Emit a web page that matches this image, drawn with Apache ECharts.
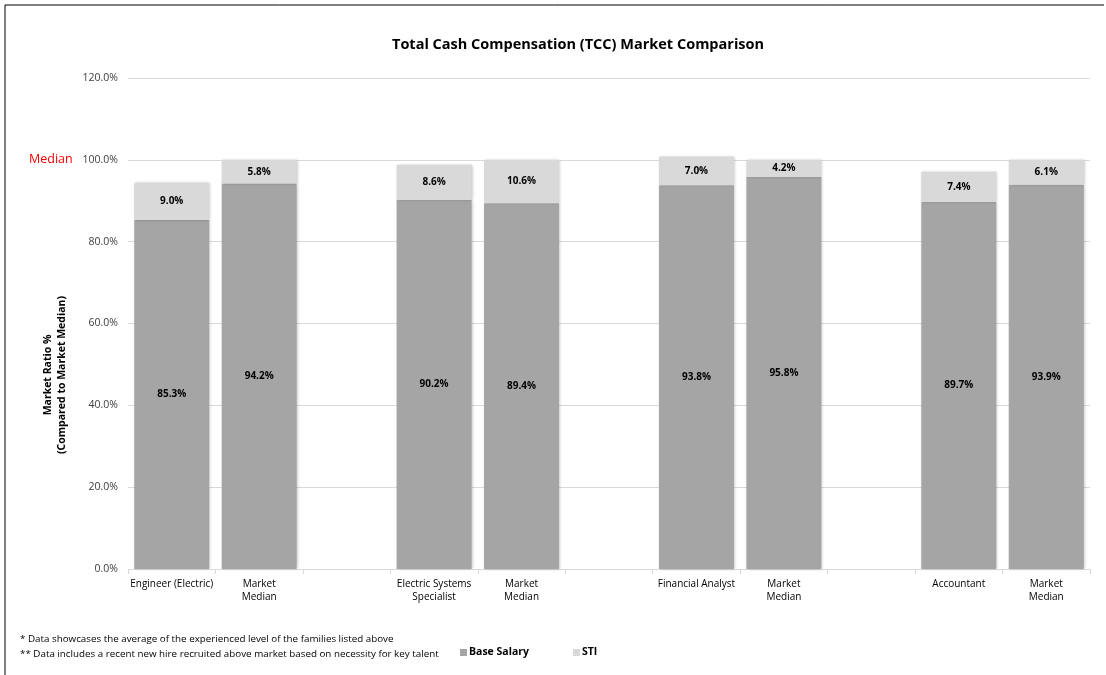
<!DOCTYPE html>
<html>
<head>
<meta charset="utf-8">
<style>
  html, body { margin: 0; padding: 0; background: #fff; }
  #chart { width: 1106px; height: 675px; }
</style>
<script src="https://cdn.jsdelivr.net/npm/echarts@6/dist/echarts.min.js"></script>
</head>
<body>
<div id="chart"></div>
<script>
// Job families, each followed by its market median, with a blank slot between groups
const categories = [
  'Engineer (Electric)', 'Market\nMedian', '',
  'Electric Systems\nSpecialist', 'Market\nMedian', '',
  'Financial Analyst', 'Market\nMedian', '',
  'Accountant', 'Market\nMedian'
];
const baseSalary = [85.3, 94.2, null, 90.2, 89.4, null, 93.8, 95.8, null, 89.7, 93.9];
const sti = [9.0, 5.8, null, 8.6, 10.6, null, 7.0, 4.2, null, 7.4, 6.1];
const yTicks = { min: 0, max: 120, interval: 20 };
const medianLevel = 100;
const footnotes = [
  '* Data showcases the average of the experienced level of the families listed above',
  '** Data includes a recent new hire recruited above market based on necessity for key talent'
];

const FONT = '"Open Sans", "Noto Sans", sans-serif';
const pct = v => v.toFixed(1) + '%';

const chart = echarts.init(document.getElementById('chart'), null, { renderer: 'canvas' });

const barStyle = color => ({
  color: color,
  shadowColor: 'rgba(0,0,0,0.25)',
  shadowBlur: 3,
  shadowOffsetX: 1,
  shadowOffsetY: 0
});

const valueLabel = {
  show: true,
  position: 'inside',
  formatter: p => pct(p.value),
  fontFamily: FONT,
  fontSize: 10,
  fontWeight: 'bold',
  color: '#000'
};

chart.setOption({
  animation: false,
  backgroundColor: '#ffffff',
  title: {
    text: 'Total Cash Compensation (TCC) Market Comparison',
    left: 387,
    top: 32,
    textStyle: { fontFamily: FONT, fontSize: 14.5, fontWeight: 'bold', color: '#000' }
  },
  grid: { left: 128, right: 16, top: 78, bottom: 106, containLabel: false },
  legend: {
    left: 455,
    top: 642,
    itemWidth: 7,
    itemHeight: 7,
    itemGap: 44,
    icon: 'rect',
    textStyle: {
      fontFamily: FONT, fontSize: 10.5, fontWeight: 'bold', color: '#000',
      padding: [0, 0, 0, -3]
    },
    data: ['Base Salary', 'STI']
  },
  xAxis: {
    type: 'category',
    data: categories,
    axisLine: { lineStyle: { color: '#d9d9d9' } },
    axisTick: { show: true, length: 5, lineStyle: { color: '#d9d9d9' } },
    axisLabel: {
      interval: 0,
      margin: 9,
      fontFamily: FONT,
      fontSize: 10,
      color: '#000',
      lineHeight: 13
    }
  },
  yAxis: {
    type: 'value',
    min: yTicks.min,
    max: yTicks.max,
    interval: yTicks.interval,
    axisLine: { show: false },
    axisTick: { show: false },
    splitLine: { lineStyle: { color: '#d9d9d9' } },
    axisLabel: {
      formatter: v => v.toFixed(1) + '%',
      margin: 10,
      fontFamily: FONT,
      fontSize: 10.5,
      color: '#404040'
    }
  },
  series: [
    {
      name: 'Base Salary',
      type: 'bar',
      stack: 'tcc',
      data: baseSalary,
      barWidth: 75,
      itemStyle: barStyle('#a5a5a5'),
      label: valueLabel,
      z: 2
    },
    {
      name: 'STI',
      type: 'bar',
      stack: 'tcc',
      data: sti,
      barWidth: 75,
      itemStyle: barStyle('#d9d9d9'),
      label: valueLabel,
      z: 2
    }
  ]
});

// Annotations placed relative to the value axis
const medianY = chart.convertToPixel({ yAxisIndex: 0 }, medianLevel);
chart.setOption({
  graphic: [
    {
      type: 'text',
      left: 29,
      top: medianY - 7,
      style: { text: 'Median', fontFamily: FONT, fontSize: 12.5, fill: '#ff0000' }
    },
    {
      type: 'text',
      x: 55,
      y: 375,
      rotation: Math.PI / 2,
      style: {
        text: 'Market Ratio %\n(Compared to Market Median)',
        fontFamily: FONT,
        fontSize: 10.5,
        fontWeight: 'bold',
        lineHeight: 14,
        fill: '#000',
        align: 'center',
        verticalAlign: 'middle'
      }
    },
    {
      type: 'text',
      left: 20,
      top: 632,
      style: {
        text: footnotes.join('\n'),
        fontFamily: FONT,
        fontSize: 9.8,
        lineHeight: 15,
        fill: '#000'
      }
    },
    {
      type: 'line',
      shape: { x1: 5, y1: 5, x2: 1104, y2: 5 },
      style: { stroke: '#000', lineWidth: 1 }
    },
    {
      type: 'line',
      shape: { x1: 5, y1: 5, x2: 5, y2: 675 },
      style: { stroke: '#000', lineWidth: 1 }
    }
  ]
});
</script>
</body>
</html>
